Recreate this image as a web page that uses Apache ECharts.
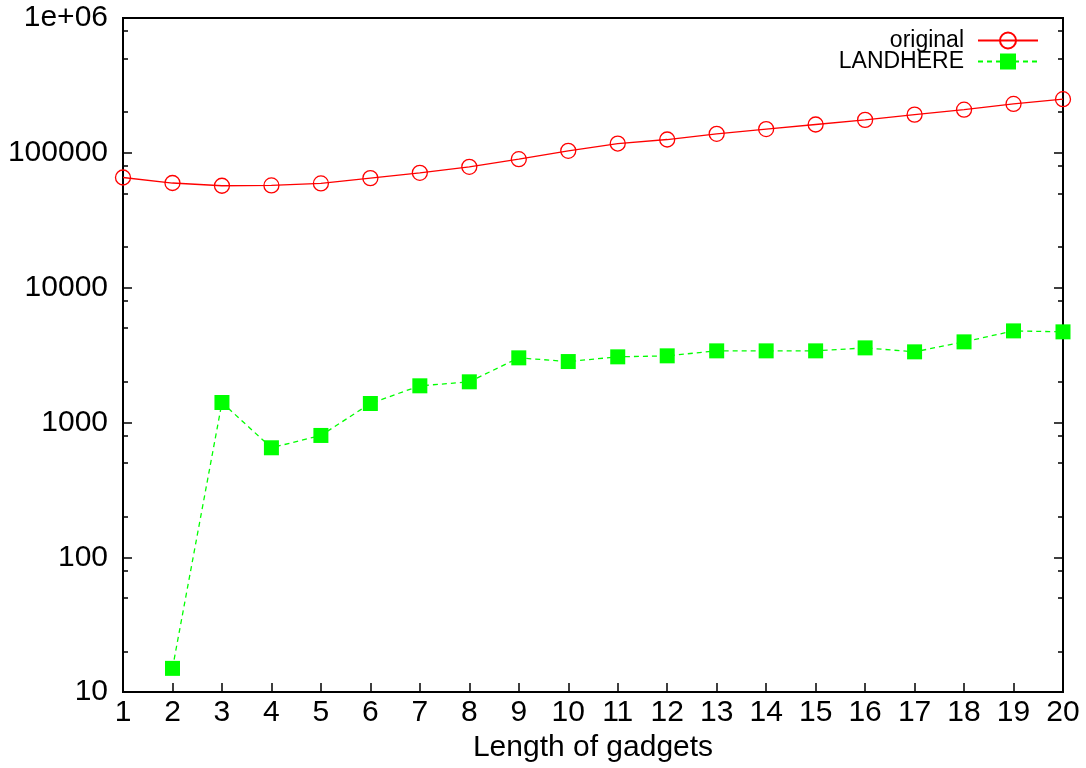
<!DOCTYPE html>
<html>
<head>
<meta charset="utf-8">
<style>
  html, body { margin: 0; padding: 0; background: #fff; }
  #chart { width: 1086px; height: 768px; }
</style>
<script src="https://cdn.jsdelivr.net/npm/echarts@6/dist/echarts.min.js"></script>
</head>
<body>
<div id="chart"></div>
<script>
var lengths = [1, 2, 3, 4, 5, 6, 7, 8, 9, 10, 11, 12, 13, 14, 15, 16, 17, 18, 19, 20];
var original = [65600, 59700, 57000, 57300, 59300, 64900, 71100, 78700, 89700, 103500,
  117200, 125500, 138300, 150000, 162200, 175500, 192000, 209000, 230600, 250000];
var landhere = [null, 15, 1406, 649, 801, 1383, 1870, 2002, 3015, 2830,
  3067, 3120, 3397, 3397, 3397, 3575, 3340, 3961, 4778, 4700];
var minorTicks = [20, 50, 80, 200, 500, 800, 2000, 5000, 8000, 20000, 50000, 80000, 200000, 500000, 800000];

var font = 'Liberation Sans, Arial, sans-serif';
var chart = echarts.init(document.getElementById('chart'), null, { renderer: 'canvas' });

function pairs(vals) {
  var out = [];
  lengths.forEach(function(x, i) {
    if (vals[i] != null) out.push([x, vals[i]]);
  });
  return out;
}

// minor ticks drawn on a linear axis spanning log10(10)..log10(1e6)
var minorLog = minorTicks.map(function(v) { return Math.log10(v); });

function minorAxis(pos) {
  return {
    type: 'value', position: pos, min: 1, max: 6,
    axisLine: { show: false },
    axisLabel: { show: false },
    splitLine: { show: false },
    axisTick: { show: true, inside: true, length: 5, customValues: minorLog, lineStyle: { color: '#000', width: 1.5 } }
  };
}

chart.setOption({
  animation: false,
  grid: { left: 123, right: 23, top: 18, bottom: 75, show: true, borderColor: '#000', borderWidth: 2, backgroundColor: 'transparent' },
  legend: {
    right: 42, top: 24, orient: 'vertical', align: 'right',
    itemWidth: 60, itemHeight: 20, itemGap: -2,
    textStyle: { fontFamily: font, fontSize: 23, lineHeight: 20, color: '#000', padding: [0, 9, 0, 0] },
    data: ['original', 'LANDHERE']
  },
  xAxis: {
    type: 'value', min: 1, max: 20, interval: 1,
    name: 'Length of gadgets', nameLocation: 'middle', nameGap: 39,
    nameTextStyle: { fontFamily: font, fontSize: 30, color: '#000' },
    axisLine: { lineStyle: { color: '#000', width: 2 } },
    axisTick: { inside: true, length: 9, lineStyle: { color: '#000', width: 1.5 } },
    axisLabel: { fontFamily: font, fontSize: 30, color: '#000', margin: 6 },
    splitLine: { show: false }
  },
  yAxis: [
    {
      type: 'log', logBase: 10, min: 10, max: 1000000, position: 'left',
      axisLine: { show: true, lineStyle: { color: '#000', width: 2 } },
      axisTick: { inside: true, length: 9, lineStyle: { color: '#000', width: 1.5 } },
      axisLabel: {
        fontFamily: font, fontSize: 30, color: '#000', margin: 15,
        formatter: function(v) {
          var r = Math.round(v);
          return r === 1000000 ? '1e+06' : String(r);
        }
      },
      splitLine: { show: false }
    },
    {
      type: 'log', logBase: 10, min: 10, max: 1000000, position: 'right',
      axisLine: { show: true, lineStyle: { color: '#000', width: 2 } },
      axisTick: { inside: true, length: 9, lineStyle: { color: '#000', width: 1.5 } },
      axisLabel: { show: false },
      splitLine: { show: false }
    },
    minorAxis('left'),
    minorAxis('right')
  ],
  series: [
    {
      name: 'original', type: 'line', yAxisIndex: 0,
      data: pairs(original),
      symbol: 'circle', symbolSize: 15,
      color: '#ff0000',
      lineStyle: { color: '#ff0000', width: 1.3 },
      itemStyle: { color: 'rgba(255,255,255,0)', borderColor: '#ff0000', borderWidth: 1.3 }
    },
    {
      name: 'LANDHERE', type: 'line', yAxisIndex: 0,
      data: pairs(landhere),
      symbol: 'rect', symbolSize: 15,
      color: '#00ff00',
      lineStyle: { color: '#00ff00', width: 1.3, type: [5, 4] },
      itemStyle: { color: '#00ff00' }
    }
  ]
});

window.addEventListener('resize', function() { chart.resize(); });
</script>
</body>
</html>
